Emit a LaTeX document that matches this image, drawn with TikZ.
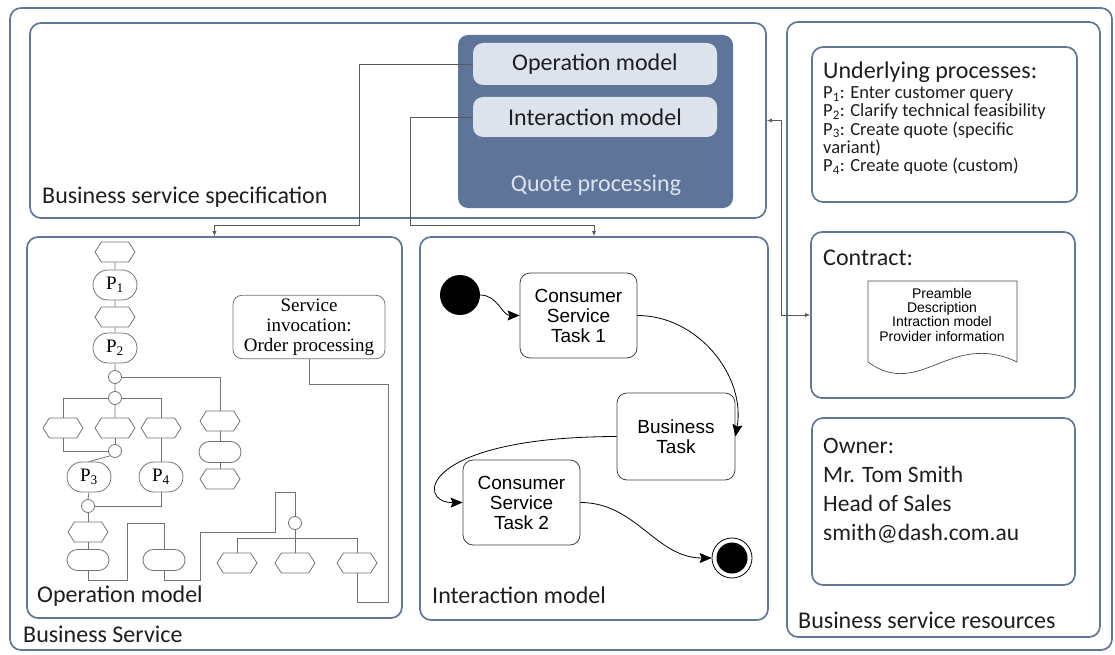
\documentclass[tikz,border=0pt]{standalone}
\usepackage{fontspec}
\setmainfont{Carlito}
\newfontfamily\timesfont{Liberation Serif}
\newfontfamily\arialfont{Liberation Sans}
\usetikzlibrary{arrows.meta, calc, shapes.misc, shapes.symbols}

\definecolor{frameblue}{RGB}{96,119,154}
\definecolor{quoteblue}{RGB}{94,117,153}
\definecolor{pillgray}{RGB}{221,227,237}
\definecolor{wiregray}{RGB}{115,115,115}
\definecolor{inkgray}{RGB}{30,30,30}

\begin{document}
\begin{tikzpicture}[
  x=1pt, y=-1pt,
  panel/.style = {draw=frameblue, line width=1.7pt, rounded corners=11pt, inner sep=0pt},
  caption/.style = {font=\fontsize{24}{28}\selectfont, text=inkgray, inner sep=0pt, anchor=base west},
  pill/.style = {fill=pillgray, rounded corners=10pt, minimum width=244, font=\fontsize{24}{28}\selectfont, text=inkgray},
  hexa/.style = {draw=wiregray, line width=0.8pt, signal, signal to=east and west, signal pointer angle=115, minimum width=40, minimum height=20, inner sep=0pt},
  stad/.style = {draw=wiregray, line width=0.8pt, rounded rectangle, minimum width=42, minimum height=21, inner sep=0pt},
  proc/.style = {stad, minimum width=44, minimum height=30, font=\timesfont\fontsize{19}{20}\selectfont},
  junc/.style = {draw=wiregray, line width=0.8pt, circle, minimum size=13, inner sep=0pt},
  wire/.style = {draw=wiregray, line width=0.8pt},
  task/.style = {draw=black!75, line width=0.8pt, rounded corners=10pt, minimum width=117, minimum height=85, align=center, font=\arialfont\fontsize{19}{20}\selectfont},
  flow/.style = {line width=0.8pt, -{Stealth[length=12pt, width=10pt, inset=2pt]}},
  link/.style = {draw=black!65, line width=0.6pt, -{Latex[length=5pt, width=4pt]}}
]
\useasboundingbox (0,0) rectangle (1115,655);

% Outer frame and panels
\node[panel, minimum width=1102, minimum height=642] (outer) at (561,329) {};
\node[panel, minimum width=736, minimum height=195] (spec) at (398,120.5) {};
\node[panel, minimum width=375, minimum height=381] (opanel) at (214.5,427.5) {};
\node[panel, minimum width=348, minimum height=383] (ipanel) at (594,428.5) {};
\node[panel, minimum width=313, minimum height=615] (res) at (943.5,329.5) {};
\node[panel, minimum width=265, minimum height=155] (under) at (944.5,124.5) {};
\node[panel, minimum width=264, minimum height=166] (contract) at (943,315) {};
\node[panel, minimum width=263, minimum height=167] (owner) at (943.5,501.5) {};

% Captions
\node[caption] (speclbl) at (42,203) {Business service specification};
\node[caption] (oplbl) at (37,602) {Operation model};
\node[caption] (servlbl) at (23,642) {Business Service};
\node[caption] (intlbl) at (432,603) {Interaction model};
\node[caption] (reslbl) at (798,628) {Business service resources};

% Quote processing block
\node[fill=quoteblue, rounded corners=10pt, minimum width=275, minimum height=173] (quote) at (595.5,121.5) {};
\node[pill, minimum height=42] (ompill) at (595,64) {Operation model};
\node[pill, minimum height=40] (impill) at (595,117) {Interaction model};
\node[font=\fontsize{24}{28}\selectfont, text=pillgray, inner sep=0pt, anchor=base] (quotelbl) at (596,191) {Quote processing};

% Links between the blocks
\draw[link] (ompill.west) -| (359,225) -| (opanel.north);
\draw[link] (impill.west) -| (410,225) -| (ipanel.north);
\draw[link, {Latex[length=5pt, width=4pt]}-{Latex[length=5pt, width=4pt]}] (spec.east) -| (781,315) -- (contract.west);

% Resources
\node[caption] (underlbl) at (823,79) {Underlying processes:};
\node[inner sep=0pt, anchor=north west, align=left, text=inkgray, font=\fontsize{18.5}{18.3}\selectfont] (plist) at (823,86.5) {%
  P\textsubscript{1}: Enter customer query\\
  P\textsubscript{2}: Clarify technical feasibility\\
  P\textsubscript{3}: Create quote (specific\\
  variant)\\
  P\textsubscript{4}: Create quote (custom)};
\node[caption] (contractlbl) at (823,265) {Contract:};
\draw[line width=0.7pt, draw=black!70] (868,281) coordinate (doctl) -- (1017,281) -- (1017,362)
  .. controls (950,330) and (920,400) .. (868,362) -- cycle;
\node[inner sep=0pt, anchor=north, align=center, font=\arialfont\fontsize{14}{14.3}\selectfont] (doctext) at (942,288)
  {Preamble\\Description\\Intraction model\\Provider information};
\node[inner sep=0pt, anchor=north west, align=left, text=inkgray, font=\fontsize{23.5}{29}\selectfont] (ownertext) at (823,438)
  {Owner:\\Mr. Tom Smith\\Head of Sales\\smith@dash.com.au};

% Operation model
\node[hexa] (h0) at (115,252) {};
\node[proc] (p1) at (115,285) {P\textsubscript{1}};
\node[hexa] (h1) at (115,317) {};
\node[proc] (p2) at (115,348) {P\textsubscript{2}};
\node[junc] (c1) at (115,377) {};
\node[junc] (c2) at (115,398) {};
\node[hexa] (ha) at (63,428) {};
\node[hexa] (hb) at (115,428) {};
\node[hexa] (hc) at (161,428) {};
\node[hexa] (hr1) at (220,421) {};
\node[stad] (sr) at (220,452) {};
\node[hexa] (hr2) at (220,479) {};
\node[junc] (c3) at (115,451) {};
\node[proc] (p3) at (89,477) {P\textsubscript{3}};
\node[proc] (p4) at (161,477) {P\textsubscript{4}};
\node[junc] (c4) at (88,506) {};
\node[hexa] (h5) at (88,532) {};
\node[stad] (s5) at (88,560) {};
\node[stad] (s6) at (164,560) {};
\node[junc] (c5) at (295,523) {};
\node[hexa] (hx) at (237,563) {};
\node[hexa] (hy) at (295,563) {};
\node[hexa] (hz) at (357,563) {};
\node[draw=wiregray, line width=0.8pt, rounded corners=9pt, minimum width=152, minimum height=60, align=center,
  font=\timesfont\fontsize{19}{20}\selectfont] (svc) at (309,327) {Service\\invocation:\\Order processing};

\draw[wire] (h0) -- (p1) -- (h1) -- (p2) -- (c1) -- (c2) -- (hb);
\draw[wire] (c1.east) -| (hr1.north);
\draw[wire] (hr1) -- (sr) -- (hr2);
\draw[wire] (ha.north) |- (c2.west);
\draw[wire] (c2.east) -| (hc.north);
\draw[wire] (ha.south) |- (c3.west);
\draw[wire] (hb.south) -- (c3.north);
\draw[wire] (c3.225) -- (p3.north);
\draw[wire] (hc.south) -- (p4.north);
\draw[wire] (p3.south) -- (c4.north);
\draw[wire] (c4.east) -| (p4.south);
\draw[wire] (c4) -- (h5) -- (s5);
\draw[wire] (s5.south) |- (127,580) -- (127,523) -| (s6.north);
\draw[wire] (s6.south) |- (200,580) -- (200,532) -- (275,532) -- (275,492) -| (c5.north);
\draw[wire] (c5.south) -- (hy.north);
\draw[wire] (hx.north) |- (357,538) -- (hz.north);
\draw[wire] (hz.south) |- (388,602) -- (388,384) -| (svc.south);

% Interaction model
\node[circle, fill=black, minimum size=40, inner sep=0pt] (start) at (460,295) {};
\node[task] (cst1) at (578.5,315.5) {Consumer\\Service\\Task 1};
\node[task, minimum width=118, minimum height=87] (bt) at (676,436.5) {Business\\Task};
\node[task] (cst2) at (521.5,502.5) {Consumer\\Service\\Task 2};
\node[circle, draw=black, line width=0.8pt, minimum size=40, inner sep=0pt] (stop) at (732,558) {};
\node[circle, fill=black, minimum size=31, inner sep=0pt] (stopin) at (stop) {};

\draw[flow] (start.east) to[out=0, in=180] (cst1.west);
\draw[flow] (cst1.east) to[out=0, in=80] (bt.east);
\draw[flow] (bt.west) .. controls (420,437) and (415,503) .. (cst2.west);
\draw[flow] (cst2.east) to[out=0, in=180] (stop.west);

\end{tikzpicture}
\end{document}
